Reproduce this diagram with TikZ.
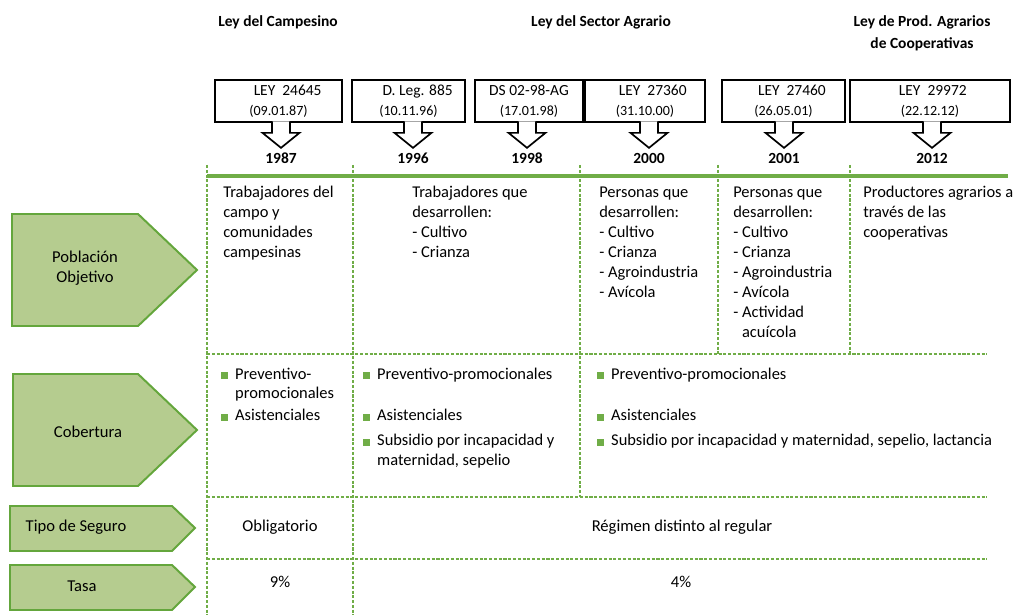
\documentclass[tikz,border=0pt]{standalone}
\usepackage{fontspec}
\setmainfont{Carlito}
\usetikzlibrary{calc}
\definecolor{lawgreen}{RGB}{112,173,71}
\definecolor{rowfill}{RGB}{181,204,143}
\definecolor{rowedge}{RGB}{100,166,60}
\newcommand\sqb{\textcolor{lawgreen}{\rule{4.9pt}{4.9pt}}}
\newcommand\lawdate[1]{{\fontsize{10}{14}\selectfont #1}}
\tikzset{
  lawbox/.style={draw, line width=1.2pt, minimum height=1.05cm, inner sep=0pt, align=center,
    font=\fontsize{11}{14.2}\selectfont},
  blockarrow/.style={draw, line width=1.2pt, fill=white},
  yearlbl/.style={font=\bfseries\fontsize{11}{13}\selectfont, inner sep=0pt},
  lawtitle/.style={font=\bfseries\fontsize{11}{15.6}\selectfont, align=center, inner sep=0pt},
  rowlabel/.style={draw=rowedge, fill=rowfill, line width=1.4pt},
  rowtext/.style={font=\fontsize{11.8}{14.2}\selectfont, align=center, inner sep=0pt},
  cell/.style={font=\fontsize{11.7}{14.2}\selectfont, anchor=base west, inner sep=0pt},
  tabgrid/.style={lawgreen, line width=0.8pt, dash pattern=on 2.2pt off 1.2pt},
  timeline/.style={lawgreen, line width=2.2pt}
}
\begin{document}
\begin{tikzpicture}[x=0.025cm, y=-0.025cm]
      \useasboundingbox (0,0) rectangle (1016,615);
      \node[lawtitle] (h1) at (278,22) {Ley del Campesino};
      \node[lawtitle] (h2) at (601,22) {Ley del Sector Agrario};
      \node[lawtitle] (h3) at (922,33) {Ley de Prod. Agrarios\\de Cooperativas};

      \node[lawbox, minimum width=3.18cm] (b1) at (278.5,101) {\hspace*{13pt}LEY~~24645\\\lawdate{(09.01.87)}};
      \node[lawbox, minimum width=2.83cm] (b2) at (408.5,101) {\hspace*{13pt}D. Leg. 885\\\lawdate{(10.11.96)}};
      \node[lawbox, minimum width=2.70cm] (b3) at (529,101) {DS 02-98-AG\\\lawdate{(17.01.98)}};
      \node[lawbox, minimum width=3.00cm] (b4) at (645,101) {\hspace*{11pt}LEY~~27360\\\lawdate{(31.10.00)}};
      \node[lawbox, minimum width=3.08cm] (b5) at (783.5,101) {\hspace*{12pt}LEY~~27460\\\lawdate{(26.05.01)}};
      \node[lawbox, minimum width=4.00cm] (b6) at (930,101) {\hspace*{4pt}LEY~~29972\\\lawdate{(22.12.12)}};

      \node[yearlbl] (yr1) at (281,158) {1987};
      \node[yearlbl] (yr2) at (413,158) {1996};
      \node[yearlbl] (yr3) at (527,158) {1998};
      \node[yearlbl] (yr4) at (649,158) {2000};
      \node[yearlbl] (yr5) at (784,158) {2001};
      \node[yearlbl] (yr6) at (932,158) {2012};

      \foreach \i in {1,...,6}
        \draw[blockarrow] ($(b\i.south -| yr\i)+(-9,-1.5)$) -- ++(0,11.5) -- ++(-9.5,0)
          -- ++(18.5,15) -- ++(18.5,-15) -- ++(-9.5,0) -- ++(0,-11.5);

      \foreach \x/\y in {207/615, 353/615, 580/497, 718/354, 850/354}
        \draw[tabgrid] (\x,165) -- (\x,\y);
      \foreach \y in {354, 497, 559}
        \draw[tabgrid] (207,\y) -- (987,\y);
      \draw[timeline] (207,176) -- (1008,176);

      \draw[rowlabel] (12,214) -- (138,214) -- (197,270) -- (138,326) -- (12,326) -- cycle;
      \draw[rowlabel] (13,374) -- (138,374) -- (197,430) -- (138,486) -- (13,486) -- cycle;
      \draw[rowlabel] (10,506) -- (172,506) -- (195,528) -- (172,551) -- (10,551) -- cycle;
      \draw[rowlabel] (10,565) -- (172,565) -- (195,587) -- (172,610) -- (10,610) -- cycle;
      \node[rowtext] (pob) at (85,268) {Población\\Objetivo};
      \node[rowtext] (cob) at (88,432) {Cobertura};
      \node[rowtext] (tip) at (76,527) {Tipo de Seguro};
      \node[rowtext] (tas) at (82,586) {Tasa};

      \node[cell] (p1) at (223,198) {\begin{tabular}[t]{@{}l@{}}
        Trabajadores del\\campo y\\comunidades\\campesinas\end{tabular}};
      \node[cell] (p2) at (412,198) {\begin{tabular}[t]{@{}l@{}}
        Trabajadores que\\desarrollen:\\- Cultivo\\- Crianza\end{tabular}};
      \node[cell] (p3) at (599,198) {\begin{tabular}[t]{@{}l@{}}
        Personas que\\desarrollen:\\- Cultivo\\- Crianza\\- Agroindustria\\- Avícola\end{tabular}};
      \node[cell] (p4) at (733,198) {\begin{tabular}[t]{@{}l@{}}
        Personas que\\desarrollen:\\- Cultivo\\- Crianza\\- Agroindustria\\- Avícola\\- Actividad\\
        \hphantom{- }acuícola\end{tabular}};
      \node[cell] (p5) at (863,198) {\begin{tabular}[t]{@{}l@{}}
        Productores agrarios a\\través de las\\cooperativas\end{tabular}};

      \node[cell] (c1) at (221,379) {\begin{tabular}[t]{@{}l@{\hspace{5pt}}l@{}}
        \sqb & Preventivo-\\ & promocionales\\[1.4pt] \sqb & Asistenciales\end{tabular}};
      \node[cell] (c2) at (363,379) {\begin{tabular}[t]{@{}l@{\hspace{5pt}}l@{}}
        \sqb & Preventivo-promocionales\\[15.6pt] \sqb & Asistenciales\\[3.5pt]
        \sqb & Subsidio por incapacidad y\\ & maternidad, sepelio\end{tabular}};
      \node[cell] (c3) at (597,379) {\begin{tabular}[t]{@{}l@{\hspace{5pt}}l@{}}
        \sqb & Preventivo-promocionales\\[15.6pt] \sqb & Asistenciales\\[3.5pt]
        \sqb & Subsidio por incapacidad y maternidad, sepelio, lactancia\end{tabular}};

      \node[rowtext] (t1) at (280,527) {Obligatorio};
      \node[rowtext] (t2) at (682,527) {Régimen distinto al regular};
      \node[rowtext] (r1) at (280,582) {9\%};
      \node[rowtext] (r2) at (681,582) {4\%};
    \end{tikzpicture}
\end{document}
